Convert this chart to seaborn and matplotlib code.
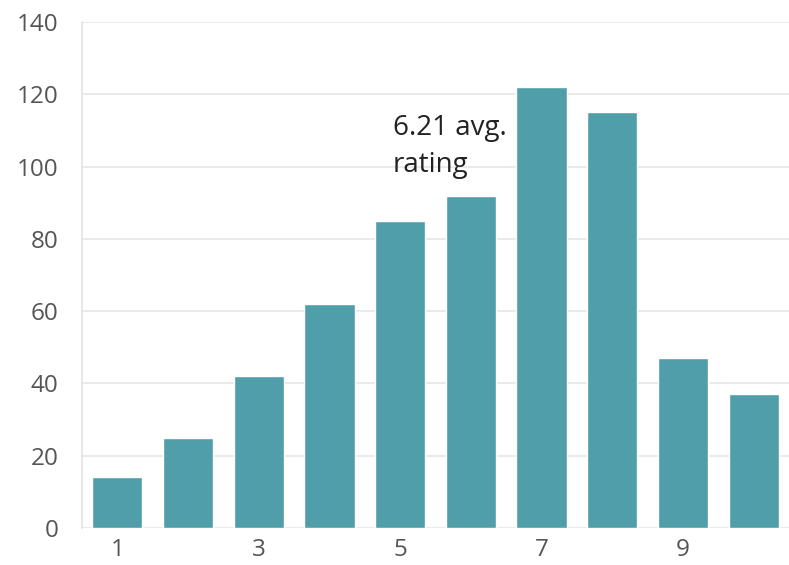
import matplotlib
matplotlib.use('Agg')
import matplotlib.pyplot as plt
import seaborn as sns
import pandas as pd

# rating histogram data
ratings = ['1', '2', '3', '4', '5', '6', '7', '8', '9', '10']
counts = [14, 25, 42, 62, 85, 92, 122, 115, 47, 37]
x_tick_labels = ['1', '', '3', '', '5', '', '7', '', '9', '']
y_ticks = [0, 20, 40, 60, 80, 100, 120, 140]
avg_label = '6.21 avg.\nrating'

df = pd.DataFrame({'rating': ratings, 'count': counts})

sns.set_style('white')
plt.rcParams['font.family'] = ['Open Sans', 'DejaVu Sans']

fig = plt.figure(figsize=(7.89, 5.65), dpi=100)
ax = fig.add_axes([0.104, 0.0655, 0.896, 0.8955])

sns.barplot(data=df, x='rating', y='count', color='#4f9eaa', saturation=1,
            width=0.71, ax=ax)

ax.set_ylim(0, 140)
ax.set_xlim(-0.5, 9.5)
ax.set_yticks(y_ticks)
ax.set_xticks(range(len(ratings)))
ax.set_xticklabels(x_tick_labels)
ax.set_xlabel('')
ax.set_ylabel('')

ax.grid(axis='y', color='#e6e6e6', linewidth=1.2, zorder=0)
ax.set_axisbelow(True)
for side in ['top', 'right', 'bottom']:
    ax.spines[side].set_visible(False)
ax.spines['left'].set_color('#e3e3e3')
ax.spines['left'].set_linewidth(1.2)

ax.tick_params(axis='y', length=12, color='#e6e6e6', width=1.2, pad=5,
               labelsize=17.5, labelcolor='#555555')
ax.tick_params(axis='x', length=0, pad=7, labelsize=17.5, labelcolor='#555555')

ax.text(3.9, 114.5, avg_label, fontsize=20, color='#222222', va='top',
        ha='left', linespacing=1.4)

plt.savefig('out.png', dpi=100)
